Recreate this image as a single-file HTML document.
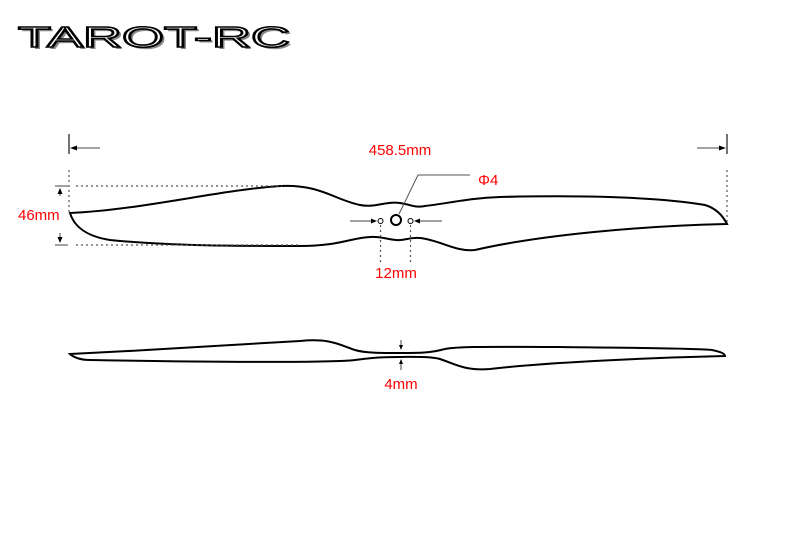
<!DOCTYPE html>
<html><head><meta charset="utf-8"><style>
html,body{margin:0;padding:0;background:#fff;}
svg{display:block;}
</style></head><body>
<svg width="800" height="533" viewBox="0 0 800 533" xmlns="http://www.w3.org/2000/svg">
<rect width="800" height="533" fill="#fff"/>
<!-- logo -->
<g font-family="Liberation Sans, sans-serif" font-weight="normal" font-size="29">
<text x="21" y="49" textLength="272" lengthAdjust="spacingAndGlyphs" fill="#888">TAROT-RC</text>
<text x="18" y="47" textLength="272" lengthAdjust="spacingAndGlyphs" fill="#fff" stroke="#000" stroke-width="1.6">TAROT-RC</text>
</g>
<g fill="none" stroke="#000">
<path d="M70,213 C140,210 220,190 280,186 C320,184 335,200 360,205 C375,208 385,201 400,203 C412,205 415,208 425,206 C450,203 470,198 500,197 C580,195 660,197 705,205 C718,209 724,218 727,224 C640,226 540,235 475,250 C455,252 440,240 420,238 C408,237 405,241 396,240 C385,239 380,236 370,237 C350,238 340,246 300,246 C240,246 170,246 110,240 C85,236 74,226 70,213 Z" stroke-width="2"/>
<path d="M70,354 C150,350 240,345 300,341 C330,338 340,345 355,350 C365,353 380,353 400,353 C420,353 430,353 445,349 C460,346 500,347 560,347 C630,348 690,348 712,350 C722,352 725,354 725,356 C640,358 540,363 490,369 C465,371 455,364 440,359 C430,356 410,357 400,357 C380,357 370,358 355,360 C330,363 200,362 90,360 C80,360 73,357 70,354 Z" stroke-width="2"/>
<circle cx="396" cy="220" r="5" stroke-width="2"/>
<circle cx="380.5" cy="221" r="2.5" stroke-width="1"/>
<circle cx="410.5" cy="221" r="2.5" stroke-width="1"/>
<polyline points="399,214 418,175 470,175" stroke="#555" stroke-width="1"/>
<g stroke="#444" stroke-width="1">
<line x1="69" y1="134" x2="69" y2="154" stroke-width="1.5"/>
<line x1="74" y1="148" x2="100" y2="148"/>
<line x1="727" y1="134" x2="727" y2="154" stroke-width="1.5"/>
<line x1="697" y1="148" x2="722" y2="148"/>
<line x1="350" y1="221" x2="373" y2="221"/>
<line x1="418" y1="221" x2="442" y2="221"/>
<line x1="55" y1="186" x2="68" y2="186"/>
<line x1="55" y1="245" x2="68" y2="245"/>
<line x1="60" y1="191" x2="60" y2="196"/>
<line x1="60" y1="233" x2="60" y2="240"/>
<line x1="401" y1="340" x2="401" y2="349"/>
<line x1="401" y1="360" x2="401" y2="370"/>
</g>
<g stroke="#555" stroke-width="1.2" stroke-dasharray="2,3">
<line x1="69" y1="170" x2="69" y2="212"/>
<line x1="727" y1="170" x2="727" y2="222"/>
<line x1="76" y1="186" x2="282" y2="186"/>
<line x1="76" y1="245" x2="300" y2="245"/>
<line x1="380.5" y1="225" x2="380.5" y2="262"/>
<line x1="410.5" y1="225" x2="410.5" y2="262"/>
</g>
</g>
<g fill="#000">
<polygon points="70,148 77,145.5 77,150.5"/>
<polygon points="726,148 719,145.5 719,150.5"/>
<polygon points="377,221 371,218.5 371,223.5"/>
<polygon points="414,221 420,218.5 420,223.5"/>
<polygon points="60,188 57.5,194 62.5,194"/>
<polygon points="60,243 57.5,237 62.5,237"/>
<polygon points="401,350 399,345 403,345"/>
<polygon points="401,359 399,364 403,364"/>
</g>
<g font-family="Liberation Sans, sans-serif" font-size="15" fill="#f00">
<text x="400" y="155" text-anchor="middle">458.5mm</text>
<text x="478" y="185">Φ4</text>
<text x="396" y="278" text-anchor="middle">12mm</text>
<text x="18" y="220">46mm</text>
<text x="401" y="389" text-anchor="middle">4mm</text>
</g>
</svg>
</body></html>
